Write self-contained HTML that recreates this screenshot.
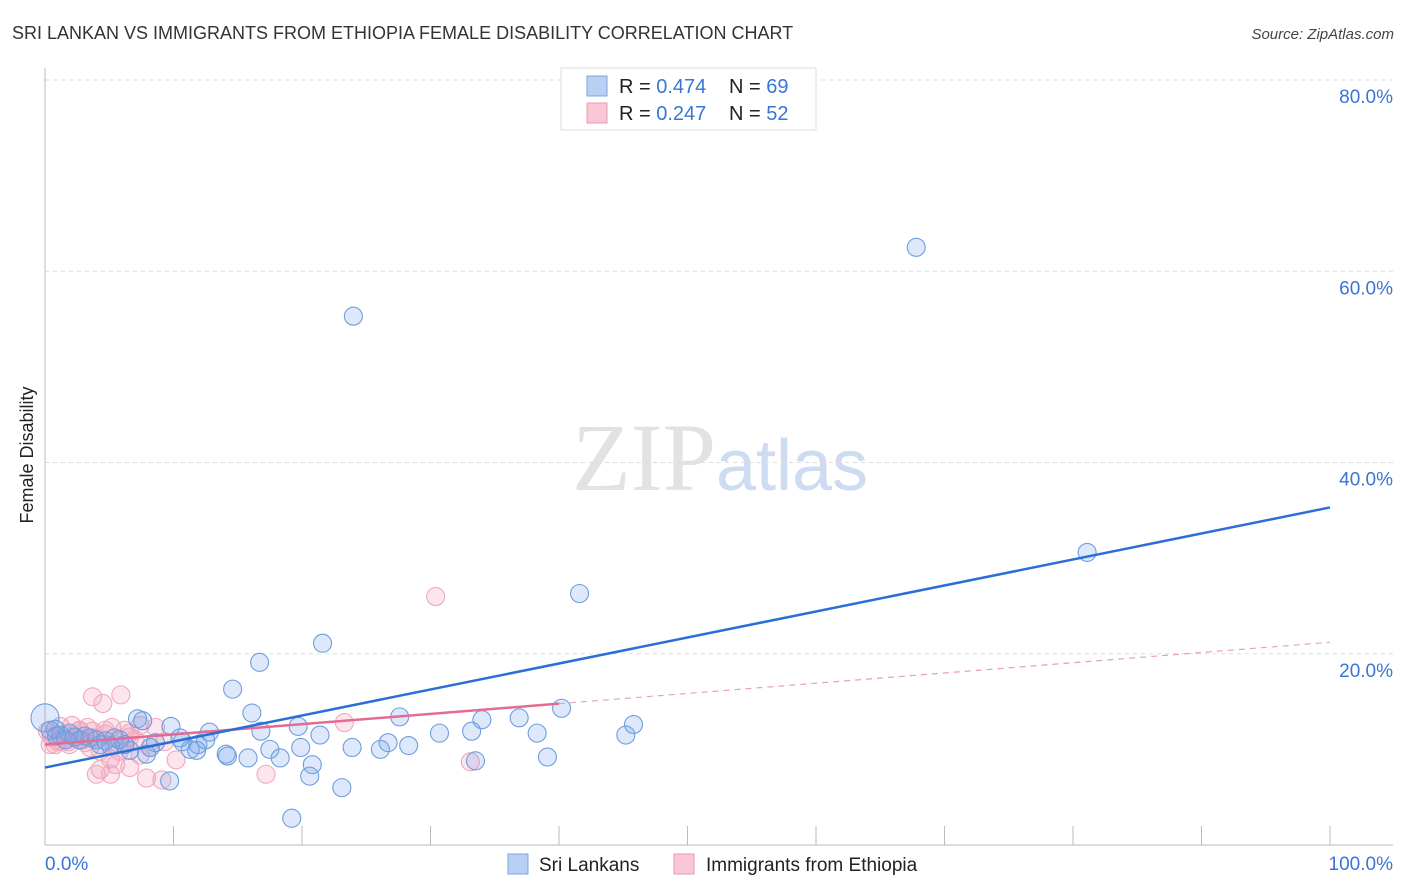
<!DOCTYPE html>
<html><head><meta charset="utf-8"><style>
body{margin:0;background:#fff;font-family:"Liberation Sans",sans-serif}
svg{display:block}
</style></head><body>
<svg id="chart" width="1406" height="892" xmlns="http://www.w3.org/2000/svg">
<text x="12" y="39" font-size="18" fill="#333">SRI LANKAN VS IMMIGRANTS FROM ETHIOPIA FEMALE DISABILITY CORRELATION CHART</text>
<text x="1394" y="39" font-size="15" fill="#444" text-anchor="end" font-style="italic">Source: ZipAtlas.com</text>
<text x="720" y="490" font-size="96" text-anchor="middle"><tspan font-family="Liberation Serif" fill="#e2e2e2">ZIP</tspan><tspan fill="#cddcf0" font-size="72">atlas</tspan></text>
<text transform="translate(33,455) rotate(-90)" font-size="18" fill="#222" text-anchor="middle">Female Disability</text>
<g id="grid"></g><g id="axes"></g><g id="marks"></g><g id="lines"></g>
<g>
<rect x="561" y="68" width="255" height="62" fill="#fff" stroke="#ddd"/>
<rect x="587" y="76" width="20" height="20" fill="#b7d0f4" stroke="#7ea6e0"/>
<text x="619" y="93" font-size="20" fill="#222">R = <tspan fill="#3a75d6">0.474</tspan></text>
<text x="729" y="93" font-size="20" fill="#222">N = <tspan fill="#3a75d6">69</tspan></text>
<rect x="587" y="103" width="20" height="20" fill="#f9c6d5" stroke="#eb9ab2"/>
<text x="619" y="120" font-size="20" fill="#222">R = <tspan fill="#3a75d6">0.247</tspan></text>
<text x="729" y="120" font-size="20" fill="#222">N = <tspan fill="#3a75d6">52</tspan></text>
</g>
<g>
<rect x="508" y="854" width="20" height="20" fill="#b7d0f4" stroke="#7ea6e0"/>
<text x="539" y="871" font-size="19" fill="#222">Sri Lankans</text>
<rect x="674" y="854" width="20" height="20" fill="#f9c6d5" stroke="#eb9ab2"/>
<text x="706" y="871" font-size="19" fill="#222">Immigrants from Ethiopia</text>
</g>
</svg>
<script>
const yTicks=[20,40,60,80];
const yTickLabels=["20.0%","40.0%","60.0%","80.0%"];
const xTickLabels=["0.0%","100.0%"];
const blueX=[0,67.8,24.0,81.1,41.6,21.6,16.7,14.6,16.1,7.2,7.6,9.8,12.8,16.8,19.7,21.4,27.6,36.9,34.0,40.2,45.8,45.2,30.7,33.2,38.3,23.9,26.1,28.3,26.7,19.9,17.5,18.3,15.8,14.2,11.9,14.1,10.7,11.3,11.8,8.6,8.2,6.6,5.1,4.0,3.5,5.8,1.9,1.2,0.8,1.6,2.7,4.3,39.1,33.5,20.8,20.6,23.1,19.2,9.7,7.9,6.2,5.4,12.5,10.5,3.1,0.4,0.9,2.3,4.7];
const blueY=[13.3,62.5,55.3,30.6,26.3,21.1,19.1,16.3,13.8,13.2,13.0,12.4,11.8,11.9,12.4,11.5,13.4,13.3,13.1,14.3,12.6,11.5,11.7,11.9,11.7,10.2,10.0,10.4,10.7,10.2,10.0,9.1,9.1,9.3,10.5,9.5,10.8,10.0,9.9,10.7,10.2,9.9,10.4,11.0,11.2,11.0,11.7,11.5,12.1,11.0,11.0,10.5,9.2,8.8,8.4,7.2,6.0,2.8,6.7,9.5,10.5,11.2,11.0,11.2,11.4,12.0,11.4,11.3,10.9];
const blueR=[14,9,9,9,9,9,9,9,9,9,9,9,9,9,9,9,9,9,9,9,9,9,9,9,9,9,9,9,9,9,9,9,9,9,9,9,9,9,9,9,9,9,9,9,9,9,9,9,9,9,9,9,9,9,9,9,9,9,9,9,9,9,9,9,9,9,9,9,9];
const pinkX=[30.4,3.7,5.9,4.5,3.3,2.7,2.3,1.2,0.8,0.4,1.6,1.9,3.9,4.7,6.2,7.4,8.6,7.0,8.2,5.8,5.1,4.3,4.0,5.1,6.6,7.9,9.1,10.2,5.5,17.2,23.3,33.1,3.5,5.4,6.6,9.3,1.2,0.2,0.5,3.1,4.3,7.4,2.1,2.6,4.7,6.2,1.8,1.0,2.9,3.7,5.2,6.6];
const pinkY=[25.98,15.5,15.7,14.8,12.3,12.0,11.2,10.9,10.5,10.5,11.5,10.5,11.2,12.0,12.0,12.5,12.3,11.0,10.2,9.8,9.0,7.9,7.4,7.4,8.1,7.0,6.8,8.9,8.4,7.4,12.8,8.7,10.2,10.5,11.3,10.8,12.4,11.9,11.3,10.7,9.8,9.4,12.5,11.9,11.6,10.5,10.8,10.8,11.0,11.9,12.3,11.7];
const blueFit=[8.1,35.3];
const pinkFit=[10.5,21.2];
const X0=45,X1=1330,Y0=845,Y1=80;
const sx=v=>X0+(X1-X0)*v/100;
const sy=v=>Y0-(Y0-Y1)*v/80;
const NS="http://www.w3.org/2000/svg";
function mk(t,a,p){const e=document.createElementNS(NS,t);for(const k in a)e.setAttribute(k,a[k]);p.appendChild(e);return e;}
const grid=document.getElementById('grid'),axes=document.getElementById('axes'),marks=document.getElementById('marks'),lines=document.getElementById('lines');
yTicks.forEach((t,i)=>{
 const l=mk('line',{x1:45,x2:1393,y1:sy(t),y2:sy(t),stroke:'#ddd','stroke-dasharray':'4,4'},grid);
 
 
 const tx=mk('text',{x:1393,y:sy(t)+23,'font-size':19,fill:'#3a75d6','text-anchor':'end'},axes);
 tx.textContent=yTickLabels[i];
 
 
});
const ax=mk('line',{x1:45,x2:1393,y1:Y0,y2:Y0,stroke:'#bbb'},axes);


const ay=mk('line',{x1:45,x2:45,y1:68,y2:Y0,stroke:'#bbb'},axes);


for(let i=0;i<=10;i++){
 const tk=mk('line',{x1:sx(i*10),x2:sx(i*10),y1:826,y2:Y0,stroke:'#bbb'},axes);
 
 
}
[[0,'start'],[100,'end']].forEach((p,i)=>{
 const tx=mk('text',{x:i?1393:45,y:870,'font-size':19,fill:'#3a75d6','text-anchor':p[1]},axes);
 tx.textContent=xTickLabels[i];
 
 
});
pinkX.forEach((x,i)=>{
 const c=mk('circle',{cx:sx(x),cy:sy(pinkY[i]),r:9,fill:'rgba(244,160,188,0.28)',stroke:'#efa8be','stroke-width':1.1},marks);
 
 
});
blueX.forEach((x,i)=>{
 const c=mk('circle',{cx:sx(x),cy:sy(blueY[i]),r:blueR[i],fill:'rgba(120,165,235,0.25)',stroke:'#6e9ede','stroke-width':1.1},marks);
 
 
});
const pAt=x=>pinkFit[0]+(pinkFit[1]-pinkFit[0])*x/100;
const ps=mk('line',{x1:sx(0),y1:sy(pAt(0)),x2:sx(40),y2:sy(pAt(40)),stroke:'#e56b92','stroke-width':2.5},lines);


const pd=mk('line',{x1:sx(40),y1:sy(pAt(40)),x2:sx(100),y2:sy(pAt(100)),stroke:'#e8a0b6','stroke-width':1.2,'stroke-dasharray':'6,5'},lines);


const bl=mk('line',{x1:sx(0),y1:sy(blueFit[0]),x2:sx(100),y2:sy(blueFit[1]),stroke:'#2a6fd6','stroke-width':2.5},lines);


</script>
</body></html>
